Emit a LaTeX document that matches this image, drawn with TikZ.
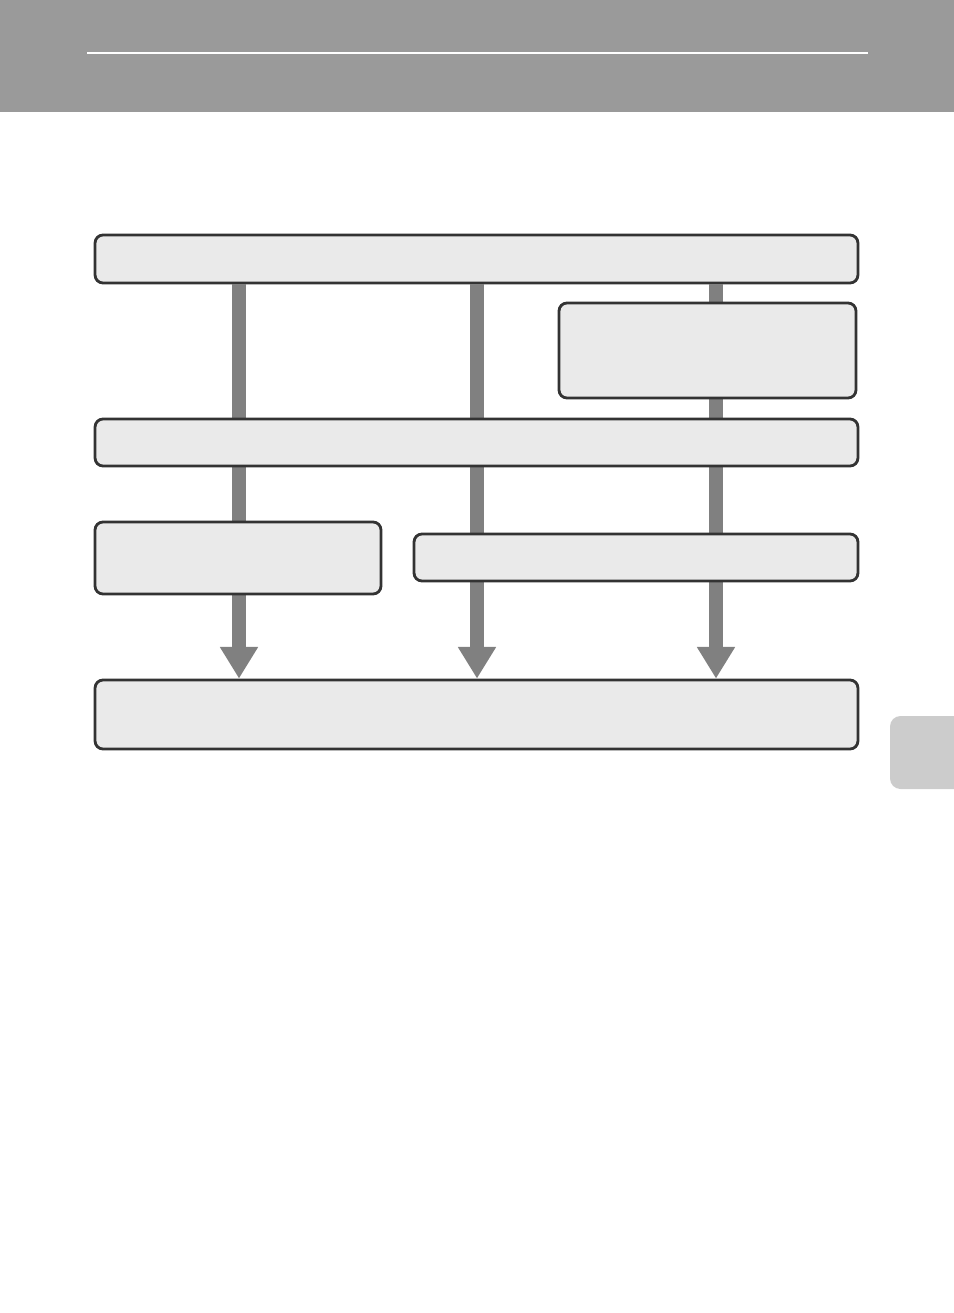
\documentclass[tikz,border=0pt]{standalone}
\usetikzlibrary{arrows.meta}
\definecolor{headgray}{HTML}{9A9A9A}
\definecolor{boxfill}{HTML}{EAEAEA}
\definecolor{boxline}{HTML}{333333}
\definecolor{bargray}{HTML}{808080}
\definecolor{tabgray}{HTML}{CCCCCC}
\begin{document}
\begin{tikzpicture}[x=0.02cm,y=-0.02cm]
\tikzstyle{b}=[draw=boxline,fill=boxfill,line width=1.6pt,rounded corners=4.5pt,inner sep=0pt]
\tikzstyle{bar}=[draw=bargray,line width=7.9pt,-{Triangle[width=20.5pt,length=18pt]}]
\useasboundingbox (0,0) rectangle (954,1313);

% Header band and tab
\fill[headgray] (0,0) rectangle (954,112);
\draw[white,line width=0.7pt] (87,53) -- (868,53);
\fill[tabgray,rounded corners=6pt] (890,716) rectangle (970,789);

% Boxes
\node[b,minimum width=15.26cm,minimum height=0.96cm] (top) at (476.5,259) {};
\node[b,minimum width=15.26cm,minimum height=1.38cm] (bottom) at (476.5,714.5) {};
\coordinate (c1) at (239,0);
\coordinate (c2) at (477,0);
\coordinate (c3) at (716,0);

% Bars (behind the inner boxes)
\draw[bar] (top.south -| c1) -- (bottom.north -| c1);
\draw[bar] (top.south -| c2) -- (bottom.north -| c2);
\draw[bar] (top.south -| c3) -- (bottom.north -| c3);

\node[b,minimum width=5.94cm,minimum height=1.90cm] (side) at (707.5,350.5) {};
\node[b,minimum width=15.26cm,minimum height=0.94cm] (mid) at (476.5,442.5) {};
\node[b,minimum width=5.72cm,minimum height=1.44cm] (left) at (238,558) {};
\node[b,minimum width=8.88cm,minimum height=0.94cm] (right) at (636,557.5) {};
\end{tikzpicture}
\end{document}
